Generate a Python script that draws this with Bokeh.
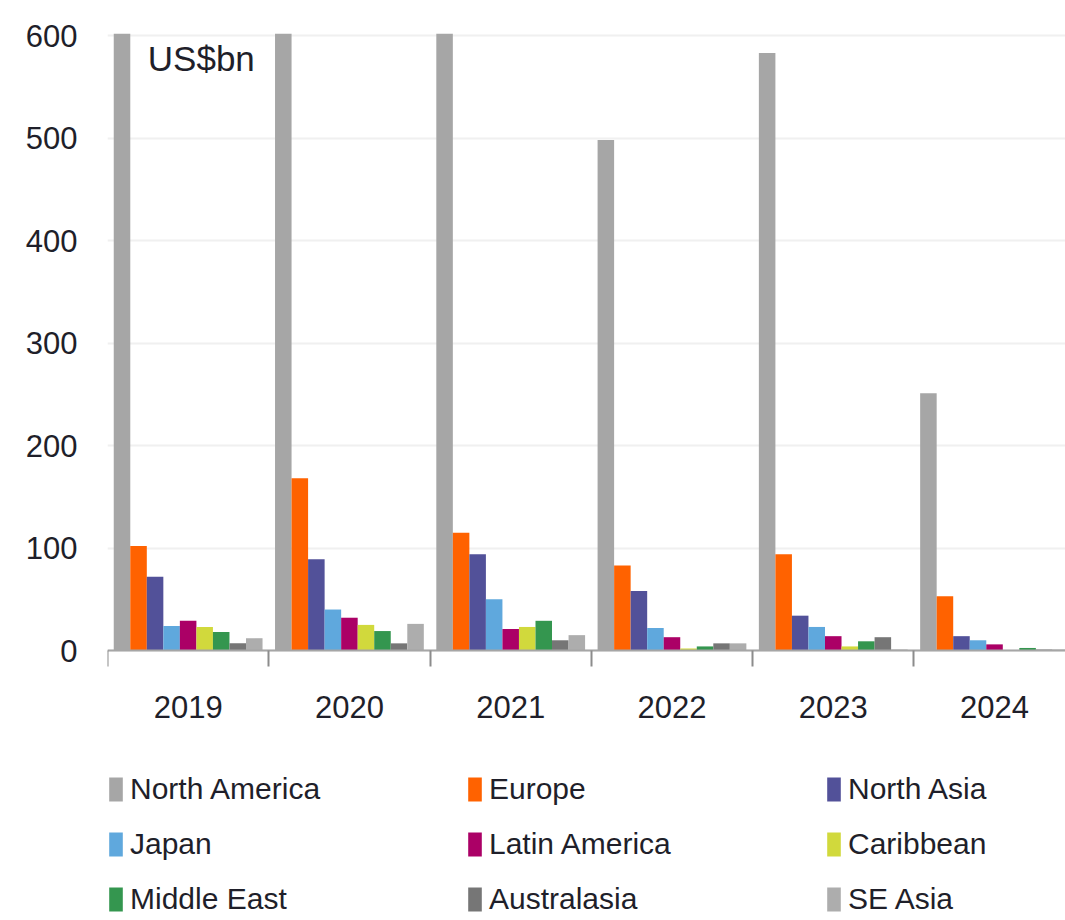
from bokeh.plotting import figure
from bokeh.models import Range1d, FixedTicker, Legend, LegendItem, Label, ColumnDataSource
from bokeh.transform import dodge
from bokeh.embed import file_html
from bokeh.resources import INLINE

years = ["2019", "2020", "2021", "2022", "2023", "2024"]
series = ["North America", "Europe", "North Asia", "Japan", "Latin America",
          "Caribbean", "Middle East", "Australasia", "SE Asia"]
north_america = [690, 730, 710, 498, 583, 251]
europe = [102, 168, 115, 83, 94, 53]
north_asia = [72, 89, 94, 58, 34, 14]
japan = [24, 40, 50, 22, 23, 10]
latin_america = [29, 32, 21, 13, 14, 6]
caribbean = [23, 25, 23, 2, 4, 0.5]
middle_east = [18, 19, 29, 4, 9, 2.5]
australasia = [7, 7, 10, 7, 13, 1]
se_asia = [12, 26, 15, 7, 1, 1]
values = [north_america, europe, north_asia, japan, latin_america,
          caribbean, middle_east, australasia, se_asia]
colors = ["#a6a6a6", "#ff6200", "#525199", "#5fa8dd", "#ab0066",
          "#d1d93c", "#34964f", "#767676", "#adadad"]
y_ticks = [0, 100, 200, 300, 400, 500, 600]

FONT = "Liberation Sans"
TXT = "#1f1f2a"

centers = [i + 0.5 for i in range(len(years))]
data = {"x": centers}
for name, vals in zip(series, values):
    data[name] = vals
src = ColumnDataSource(data)

# frame spans from the top of the bars down to the page bottom, so that the
# legend (drawn inside the frame, below the zero line) is not clipped
p = figure(width=1065, height=920, output_backend="svg", toolbar_location=None,
           x_range=Range1d(0, 5.94), y_range=Range1d(-263.4, 602),
           min_border_left=107, min_border_right=0, min_border_top=33,
           min_border_bottom=0)
p.outline_line_color = None
p.background_fill_color = "white"

bw = 0.1025
renderers = []
for i, (name, col) in enumerate(zip(series, colors)):
    r = p.vbar(x=dodge("x", (i - 4) * bw, range=p.x_range), top=name, bottom=0,
               width=bw, source=src, color=col, line_color=None)
    renderers.append(r)

# x axis drawn at y = 0
xa = p.xaxis[0]
xa.fixed_location = 0
xa.ticker = FixedTicker(ticks=centers, minor_ticks=list(range(len(years) + 1)))
xa.major_label_overrides = {c: y for c, y in zip(centers, years)}
xa.major_tick_line_color = None
xa.major_tick_out = 0
xa.major_tick_in = 0
xa.minor_tick_line_color = "#8c8c8c"
xa.minor_tick_line_width = 2
xa.minor_tick_out = 16
xa.minor_tick_in = 0
xa.axis_line_color = "#a6a6a6"
xa.axis_line_width = 2
xa.major_label_text_font = FONT
xa.major_label_text_font_size = "31px"
xa.major_label_text_color = TXT
xa.major_label_standoff = 29

ya = p.yaxis[0]
ya.ticker = FixedTicker(ticks=y_ticks)
ya.axis_line_color = None
ya.major_tick_line_color = None
ya.major_tick_out = 0
ya.major_tick_in = 0
ya.minor_tick_line_color = None
ya.major_label_text_font = FONT
ya.major_label_text_font_size = "31px"
ya.major_label_text_color = TXT
ya.major_label_standoff = 30

p.xgrid.grid_line_color = None
p.ygrid.grid_line_color = "#f0f0f0"
p.ygrid.grid_line_width = 2

p.add_layout(Label(x=0.25, y=597, text="US$bn", text_baseline="top",
                   text_font=FONT, text_font_size="35px", text_color=TXT))

# legend fills column by column: order items so rows read across
ncols = 3
nrows = 3
order = [r * ncols + c for c in range(ncols) for r in range(nrows)]
items = [LegendItem(label=series[k], renderers=[renderers[k]]) for k in order]
legend = Legend(items=items, ncols=ncols, location=(0, 4),
                glyph_width=17, glyph_height=30, label_standoff=6,
                label_width=315, spacing=21, padding=0, margin=0,
                label_text_font=FONT, label_text_font_size="30px",
                label_text_color=TXT, border_line_color=None,
                background_fill_alpha=0)
p.add_layout(legend, "center")

open("out.html", "w").write(file_html(p, INLINE))
